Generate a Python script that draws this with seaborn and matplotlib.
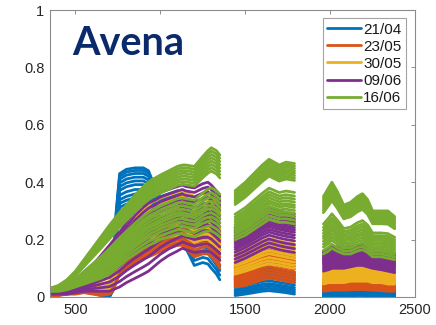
import numpy as np
import pandas as pd
import matplotlib
matplotlib.use("Agg")
import matplotlib.pyplot as plt
import seaborn as sns

# Wavelength knots (nm) for the three usable spectral windows
wl_vnir = [350, 400, 450, 500, 550, 600, 650, 700, 720, 740, 760, 800, 850, 900,
           930, 950, 970, 1000, 1050, 1100, 1130, 1150, 1200, 1250, 1280, 1300, 1330, 1350]
wl_swir1 = [1440, 1500, 1550, 1600, 1640, 1670, 1700, 1740, 1790]
wl_swir2 = [1960, 1990, 2010, 2040, 2080, 2120, 2160, 2190, 2220, 2250, 2300, 2340, 2380]

dates = ["21/04", "23/05", "30/05", "09/06", "16/06"]
colors = ["#0072BD", "#D95319", "#EDB120", "#7E2F8E", "#77AC30"]

# Upper / lower reflectance envelopes of each acquisition date
upper_2104 = [0.03, 0.03, 0.03, 0.035, 0.045, 0.035, 0.02, 0.01, 0.06, 0.30, 0.43, 0.445, 0.45, 0.45,
              0.44, 0.41, 0.37, 0.35, 0.36, 0.37, 0.36, 0.33, 0.28, 0.30, 0.30, 0.28, 0.24, 0.22,
              0.07, 0.08, 0.09, 0.10, 0.105, 0.10, 0.095, 0.09, 0.085,
              0.025, 0.028, 0.03, 0.03, 0.03, 0.032, 0.033, 0.033, 0.032, 0.03, 0.028, 0.026, 0.025]
lower_2104 = [0.01, 0.01, 0.01, 0.015, 0.02, 0.015, 0.005, 0.0, 0.02, 0.20, 0.30, 0.31, 0.32, 0.32,
              0.31, 0.27, 0.22, 0.19, 0.20, 0.21, 0.20, 0.17, 0.11, 0.12, 0.115, 0.10, 0.08, 0.06,
              0.005, 0.01, 0.015, 0.02, 0.022, 0.02, 0.018, 0.015, 0.01,
              0.0, 0.002, 0.003, 0.003, 0.003, 0.004, 0.005, 0.005, 0.004, 0.003, 0.002, 0.0, 0.0]

upper_2305 = [0.015, 0.015, 0.02, 0.025, 0.035, 0.035, 0.03, 0.04, 0.06, 0.09, 0.12, 0.16, 0.19, 0.215,
              0.23, 0.235, 0.24, 0.25, 0.265, 0.275, 0.28, 0.27, 0.25, 0.27, 0.275, 0.27, 0.25, 0.23,
              0.11, 0.125, 0.14, 0.155, 0.165, 0.16, 0.155, 0.15, 0.145,
              0.06, 0.065, 0.07, 0.07, 0.07, 0.072, 0.075, 0.075, 0.072, 0.068, 0.065, 0.06, 0.058]
lower_2305 = [0.005, 0.005, 0.01, 0.01, 0.015, 0.01, 0.005, 0.01, 0.02, 0.05, 0.08, 0.10, 0.12, 0.135,
              0.14, 0.145, 0.15, 0.16, 0.17, 0.18, 0.18, 0.17, 0.14, 0.15, 0.15, 0.14, 0.12, 0.10,
              0.035, 0.04, 0.05, 0.06, 0.065, 0.063, 0.06, 0.055, 0.05,
              0.02, 0.022, 0.024, 0.024, 0.024, 0.025, 0.026, 0.026, 0.025, 0.024, 0.022, 0.02, 0.02]

upper_3005 = [0.02, 0.025, 0.035, 0.05, 0.07, 0.085, 0.10, 0.13, 0.15, 0.17, 0.19, 0.23, 0.27, 0.30,
              0.32, 0.33, 0.335, 0.345, 0.355, 0.365, 0.37, 0.365, 0.35, 0.36, 0.36, 0.35, 0.33, 0.31,
              0.15, 0.165, 0.18, 0.195, 0.205, 0.20, 0.195, 0.19, 0.185,
              0.085, 0.09, 0.095, 0.095, 0.095, 0.10, 0.105, 0.105, 0.10, 0.095, 0.09, 0.085, 0.08]
lower_3005 = [0.01, 0.015, 0.02, 0.025, 0.035, 0.03, 0.025, 0.03, 0.05, 0.08, 0.10, 0.13, 0.155, 0.175,
              0.185, 0.19, 0.195, 0.20, 0.21, 0.215, 0.22, 0.21, 0.19, 0.20, 0.20, 0.19, 0.175, 0.165,
              0.08, 0.09, 0.10, 0.11, 0.115, 0.112, 0.11, 0.105, 0.10,
              0.045, 0.05, 0.05, 0.05, 0.05, 0.055, 0.055, 0.055, 0.055, 0.05, 0.05, 0.045, 0.045]

upper_0906 = [0.02, 0.025, 0.035, 0.055, 0.08, 0.11, 0.145, 0.18, 0.195, 0.21, 0.225, 0.26, 0.30, 0.33,
              0.345, 0.35, 0.355, 0.365, 0.375, 0.385, 0.39, 0.385, 0.38, 0.395, 0.40, 0.39, 0.37, 0.35,
              0.24, 0.26, 0.28, 0.30, 0.31, 0.305, 0.30, 0.295, 0.29,
              0.16, 0.17, 0.175, 0.175, 0.17, 0.175, 0.18, 0.18, 0.175, 0.165, 0.16, 0.155, 0.15]
lower_0906 = [0.01, 0.01, 0.01, 0.015, 0.02, 0.02, 0.02, 0.02, 0.025, 0.03, 0.035, 0.05, 0.065, 0.08,
              0.09, 0.10, 0.11, 0.125, 0.145, 0.16, 0.17, 0.165, 0.155, 0.16, 0.16, 0.155, 0.14, 0.13,
              0.12, 0.135, 0.15, 0.165, 0.175, 0.17, 0.165, 0.16, 0.155,
              0.09, 0.095, 0.10, 0.10, 0.10, 0.105, 0.11, 0.11, 0.105, 0.10, 0.095, 0.09, 0.085]

upper_1606 = [0.03, 0.04, 0.06, 0.09, 0.13, 0.17, 0.21, 0.25, 0.265, 0.28, 0.295, 0.32, 0.355, 0.385,
              0.40, 0.41, 0.415, 0.425, 0.44, 0.455, 0.46, 0.46, 0.455, 0.49, 0.51, 0.52, 0.51, 0.495,
              0.37, 0.40, 0.43, 0.46, 0.48, 0.47, 0.46, 0.47, 0.465,
              0.35, 0.38, 0.40, 0.37, 0.32, 0.33, 0.35, 0.36, 0.34, 0.30, 0.30, 0.30, 0.28]
lower_1606 = [0.02, 0.02, 0.025, 0.035, 0.045, 0.055, 0.065, 0.08, 0.09, 0.10, 0.11, 0.13, 0.15, 0.17,
              0.18, 0.185, 0.19, 0.20, 0.21, 0.22, 0.22, 0.215, 0.21, 0.225, 0.23, 0.23, 0.22, 0.21,
              0.20, 0.215, 0.235, 0.255, 0.27, 0.265, 0.26, 0.26, 0.255,
              0.15, 0.16, 0.17, 0.16, 0.15, 0.15, 0.16, 0.165, 0.155, 0.14, 0.14, 0.135, 0.13]

# Relative position of every measured plot between the two envelopes
pos_2104 = [0.0, 0.1, 0.2, 0.3, 0.42, 0.55, 0.65, 0.75, 0.85, 0.93, 1.0]
pos_2305 = [0.0, 0.1, 0.2, 0.3, 0.4, 0.5, 0.6, 0.7, 0.8, 0.9, 1.0]
pos_3005 = [0.0, 0.12, 0.25, 0.4, 0.52, 0.64, 0.76, 0.88, 1.0]
pos_0906 = [0.0, 0.1, 0.2, 0.3, 0.38, 0.45, 0.52, 0.58, 0.64, 0.7, 0.78, 0.86, 0.93, 1.0]
pos_1606 = [0.0, 0.06, 0.12, 0.17, 0.22, 0.27, 0.31, 0.36, 0.41, 0.46, 0.52,
            0.72, 0.76, 0.80, 0.84, 0.88, 0.92, 0.96, 1.0]

envelopes = {
    "21/04": (lower_2104, upper_2104, pos_2104),
    "23/05": (lower_2305, upper_2305, pos_2305),
    "30/05": (lower_3005, upper_3005, pos_3005),
    "09/06": (lower_0906, upper_0906, pos_0906),
    "16/06": (lower_1606, upper_1606, pos_1606),
}

windows = [wl_vnir, wl_swir1, wl_swir2]
rows = []
for date in dates:
    lo, hi, positions = envelopes[date]
    lo = np.asarray(lo)
    hi = np.asarray(hi)
    for k, p in enumerate(positions):
        spectrum = lo + p * (hi - lo)
        start = 0
        for w, wl in enumerate(windows):
            for j, x in enumerate(wl):
                rows.append({"wl": x, "refl": spectrum[start + j], "date": date,
                             "trace": f"{date}-{k}-{w}"})
            start += len(wl)
df = pd.DataFrame(rows)

sns.set_style("white")
plt.rcParams["font.family"] = ["Liberation Sans", "DejaVu Sans"]

fig = plt.figure(figsize=(4.36, 3.25), dpi=100)
ax = fig.add_axes([0.1147, 0.0862, 0.8373, 0.8828])

sns.lineplot(data=df, x="wl", y="refl", hue="date", hue_order=dates,
             palette=colors, units="trace", estimator=None, sort=False,
             linewidth=2.0, ax=ax)

ax.set_xlim(350, 2500)
ax.set_ylim(0, 1)
ax.set_xticks([500, 1000, 1500, 2000, 2500])
ax.set_yticks([0, 0.2, 0.4, 0.6, 0.8, 1])
ax.set_yticklabels(["0", "0.2", "0.4", "0.6", "0.8", "1"])
ax.set_xlabel("")
ax.set_ylabel("")
for s in ax.spines.values():
    s.set_visible(True)
    s.set_color("#8c8c8c")
    s.set_linewidth(0.8)
ax.tick_params(direction="in", length=3, width=0.7, color="#8c8c8c",
               labelsize=10.5, labelcolor="#262626", top=True, right=True,
               labeltop=False, labelright=False, pad=4)

handles, labels = ax.get_legend_handles_labels()
for h in handles:
    h.set_linewidth(2.0)
leg = ax.legend(handles, labels, loc="upper right", bbox_to_anchor=(0.975, 0.972),
                borderaxespad=0, fontsize=11, handlelength=2.2, handletextpad=0.15,
                labelspacing=0.2, borderpad=0.3, frameon=True, fancybox=False)
leg.get_frame().set_edgecolor("#8c8c8c")
leg.get_frame().set_linewidth(0.8)
for t in leg.get_texts():
    t.set_color("#1a1a1a")

ax.text(0.06, 0.843, "Avena", transform=ax.transAxes, fontsize=28.5,
        fontweight="bold", color="#0B2A6B", family="Lato", va="baseline", ha="left")

fig.savefig("out.png", dpi=100)
